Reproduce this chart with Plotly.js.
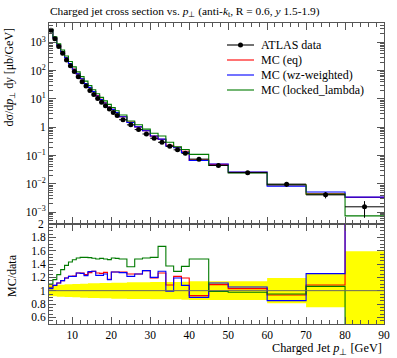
<!DOCTYPE html>
<html>
<head>
<meta charset="utf-8">
<script src="https://cdn.plot.ly/plotly-3.0.1.min.js"></script>
<style>html,body{margin:0;padding:0;background:#fff;}#chart{width:397px;height:358px;}</style>
</head>
<body>
<div id="chart"></div>
<script>
// Bin edges in charged-jet pT [GeV]
const binEdges = [4,5,6,7,8,9,10,11,12,13,14,15,16,17,18,19,20,21,22,24,26,28,30,32,34,36,38,40,45,50,60,70,80,90];

// ATLAS data, dsigma/dpT dy [mub/GeV]
const dataValues = [2700,1350,720,410,240,148,93,61,41,28.5,20,14.3,10.4,7.7,5.8,4.4,3.35,2.6,1.85,1.22,0.83,0.58,0.41,0.295,0.215,0.16,0.12,0.075,0.045,0.025,0.0098,0.0041,0.00155];
// relative data uncertainty
const dataRelErr = [0.085,0.085,0.09,0.09,0.095,0.095,0.10,0.10,0.105,0.105,0.11,0.11,0.11,0.115,0.115,0.115,0.12,0.12,0.12,0.125,0.125,0.125,0.13,0.13,0.13,0.13,0.135,0.14,0.14,0.14,0.19,0.25,0.59];

// MC predictions
const mcEq = [2835,1458,802.8,471.5,285.6,179.8,113.5,77.17,51.87,35.34,25.4,18.45,13.16,9.702,7.395,5.148,4.288,3.328,2.368,1.525,1.0375,0.754,0.4879,0.3732,0.2333,0.1944,0.1428,0.06938,0.04905,0.02575,0.009163,0.004449,0.003333];
const mcWz = [2781,1458,802.8,471.5,285.6,179.8,113.0,77.17,51.66,34.91,25.7,18.45,12.79,9.471,7.25,5.126,4.288,3.328,2.350,1.482,1.0375,0.754,0.492,0.3806,0.2129,0.1904,0.1296,0.0675,0.05018,0.02638,0.00833,0.005146,0.00341];
const mcLocked = [2970,1573,892.8,539.2,331.2,211.6,136.2,90.89,61.5,42.75,29.9,21.24,15.34,11.43,8.555,6.446,4.992,3.861,2.729,1.659,1.224,0.8642,0.615,0.4912,0.2946,0.2064,0.1638,0.1106,0.04455,0.02438,0.00931,0.004367,0.000744];

// labels
const seriesNames = ['ATLAS data','MC (eq)','MC (wz-weighted)','MC (locked_lambda)'];
const yTickVals = [1e-3,1e-2,1e-1,1,10,100,1000];
const yTickText = ['10<sup>−3</sup>','10<sup>−2</sup>','10<sup>−1</sup>','1','10<sup>1</sup>','10<sup>2</sup>','10<sup>3</sup>'];
const xTickVals = [10,20,30,40,50,60,70,80,90];
const rTickVals = [0.6,0.8,1,1.2,1.4,1.6,1.8,2];
const rTickText = ['0.6','0.8','1','1.2','1.4','1.6','1.8','2'];

const nb = dataValues.length;
const centers = [], halfW = [];
for (let i = 0; i < nb; i++) {
  centers.push((binEdges[i] + binEdges[i+1]) / 2);
  halfW.push((binEdges[i+1] - binEdges[i]) / 2);
}
const stepY = v => v.concat([v[v.length-1]]);
const ratio = v => v.map((x,i) => x / dataValues[i]);

const RED = '#ff0000', BLUE = '#0000ff', GREEN = '#007a00';
const COLORS = ['#000', RED, BLUE, GREEN];
const FONT = 'Liberation Serif, Times New Roman, serif';
const AX = '#555';

const traces = [];
// main panel MC lines
[[mcEq,RED],[mcWz,BLUE],[mcLocked,GREEN]].forEach(([v,c],k) => {
  traces.push({x: binEdges, y: stepY(v), type:'scatter', mode:'lines', line:{shape:'hv', color:c, width:1.1},
    name:seriesNames[k+1], xaxis:'x', yaxis:'y', showlegend:false, hoverinfo:'skip'});
});
// data points
traces.push({x: centers, y: dataValues, type:'scatter', mode:'markers', marker:{color:'#000', size:5},
  error_x:{type:'data', array: halfW, color:'#000', thickness:1, width:0},
  error_y:{type:'data', array: dataValues.map((v,i)=>v*dataRelErr[i]), color:'#000', thickness:1, width:0},
  xaxis:'x', yaxis:'y', showlegend:false, name:seriesNames[0]});

// ratio panel: yellow uncertainty band as filled steps
traces.push({x: binEdges, y: stepY(dataRelErr.map(e=>1-e)), type:'scatter', mode:'lines',
  line:{shape:'hv', width:0, color:'#ffff00'}, xaxis:'x2', yaxis:'y2', showlegend:false, hoverinfo:'skip'});
traces.push({x: binEdges, y: stepY(dataRelErr.map(e=>1+e)), type:'scatter', mode:'lines',
  line:{shape:'hv', width:0, color:'#ffff00'}, fill:'tonexty', fillcolor:'#ffff00',
  xaxis:'x2', yaxis:'y2', showlegend:false, hoverinfo:'skip'});
[[mcEq,RED],[mcWz,BLUE],[mcLocked,GREEN]].forEach(([v,c]) => {
  traces.push({x: binEdges, y: stepY(ratio(v)), type:'scatter', mode:'lines', line:{shape:'hv', color:c, width:1.1},
    xaxis:'x2', yaxis:'y2', showlegend:false, hoverinfo:'skip'});
});

const mainBottom = (324-224)/301;
const minorLog = [];
for (let e = -4; e <= 3; e++) for (let k = 2; k <= 9; k++) minorLog.push(k * Math.pow(10, e));

const common = {showline:true, linecolor:AX, linewidth:1, mirror:'allticks', ticks:'inside', tickcolor:AX, tickwidth:1,
  showgrid:false, zeroline:false, tickfont:{family:FONT, size:11.5, color:'#000'}};

// pixel -> paper helpers (plot area: x 49..384, y 23..324)
const px = p => (p - 49) / 335;
const py = p => 1 - (p - 23) / 301;

// manual legend
const legRows = [45, 60, 75, 90];
const shapes = [{type:'line', xref:'x2', yref:'y2', x0:4, x1:90, y0:1, y1:1, line:{color:'#666', width:1}, layer:'above'}];
const annotations = [];
seriesNames.forEach((n,i) => {
  shapes.push({type:'line', xref:'paper', yref:'paper', x0:px(227), x1:px(254), y0:py(legRows[i]), y1:py(legRows[i]),
    line:{color:COLORS[i], width:1.1}});
  annotations.push({text:n, xref:'paper', yref:'paper', x:px(259), y:py(legRows[i]), xanchor:'left', yanchor:'middle',
    showarrow:false, font:{family:FONT, size:12, color:'#000'}});
});
shapes.push({type:'circle', xref:'paper', yref:'paper', x0:px(238), x1:px(243), y0:py(legRows[0]+2.5), y1:py(legRows[0]-2.5),
  fillcolor:'#000', line:{width:0}});

annotations.push(
  {text:'dσ/d<i>p</i><sub>⊥</sub> d<i>y</i> [μb/GeV]', textangle:-90, xref:'paper', yref:'paper',
    x:px(10), y:py(26), xanchor:'center', yanchor:'top', showarrow:false, font:{family:FONT,size:12}},
  {text:'MC/data', textangle:-90, xref:'paper', yref:'paper', x:px(12), y:py(276),
    xanchor:'center', yanchor:'middle', showarrow:false, font:{family:FONT,size:12}},
  {text:'Charged Jet <i>p</i><sub>⊥</sub> [GeV]', xref:'paper', yref:'paper', x:1, y:py(349),
    xanchor:'right', yanchor:'middle', showarrow:false, font:{family:FONT,size:12.3}},
  // top ratio tick label (Plotly drops the label sitting exactly on the panel edge)
  {text:rTickText[rTickText.length-1], xref:'paper', yref:'y2', x:px(46), y:rTickVals[rTickVals.length-1],
    xanchor:'right', yanchor:'middle', showarrow:false, font:{family:FONT,size:11.5,color:'#000'}}
);

const layout = {
  width:397, height:358,
  margin:{l:49, r:13, t:23, b:34},
  paper_bgcolor:'#fff', plot_bgcolor:'#fff',
  font:{family:FONT, size:11, color:'#000'},
  showlegend:false,
  title:{text:'Charged jet cross section vs. <i>p</i><sub>⊥</sub> (anti-<i>k</i><sub>t</sub>, R = 0.6, <i>y</i> 1.5-1.9)',
    x:50/397, xanchor:'left', xref:'container', y:1-11/358, yanchor:'middle', yref:'container',
    font:{family:FONT, size:11.4, color:'#000'}},
  xaxis: Object.assign({}, common, {domain:[0,1], anchor:'y', range:[4,90], tickmode:'array', tickvals:xTickVals,
    showticklabels:false, ticklen:7, minor:{dtick:2, tick0:0, ticklen:4, ticks:'inside', tickcolor:AX}}),
  xaxis2: Object.assign({}, common, {domain:[0,1], anchor:'y2', range:[4,90], tickmode:'array', tickvals:xTickVals,
    ticklen:7, minor:{dtick:2, tick0:0, ticklen:4, ticks:'inside', tickcolor:AX}}),
  yaxis: Object.assign({}, common, {domain:[mainBottom,1], anchor:'x', type:'log', range:[-3.417,3.685],
    tickmode:'array', tickvals:yTickVals, ticktext:yTickText, ticklen:7,
    minor:{tickmode:'array', tickvals:minorLog, ticklen:4, ticks:'inside', tickcolor:AX}}),
  yaxis2: Object.assign({}, common, {domain:[0,mainBottom], anchor:'x2', range:[0.5,2.0],
    tickmode:'array', tickvals:rTickVals.slice(0,-1), ticktext:rTickText.slice(0,-1), ticklen:7,
    minor:{dtick:0.05, tick0:0, ticklen:4, ticks:'inside', tickcolor:AX}}),
  shapes: shapes,
  annotations: annotations
};

Plotly.newPlot('chart', traces, layout, {displayModeBar:false, staticPlot:true});
</script>
</body>
</html>
